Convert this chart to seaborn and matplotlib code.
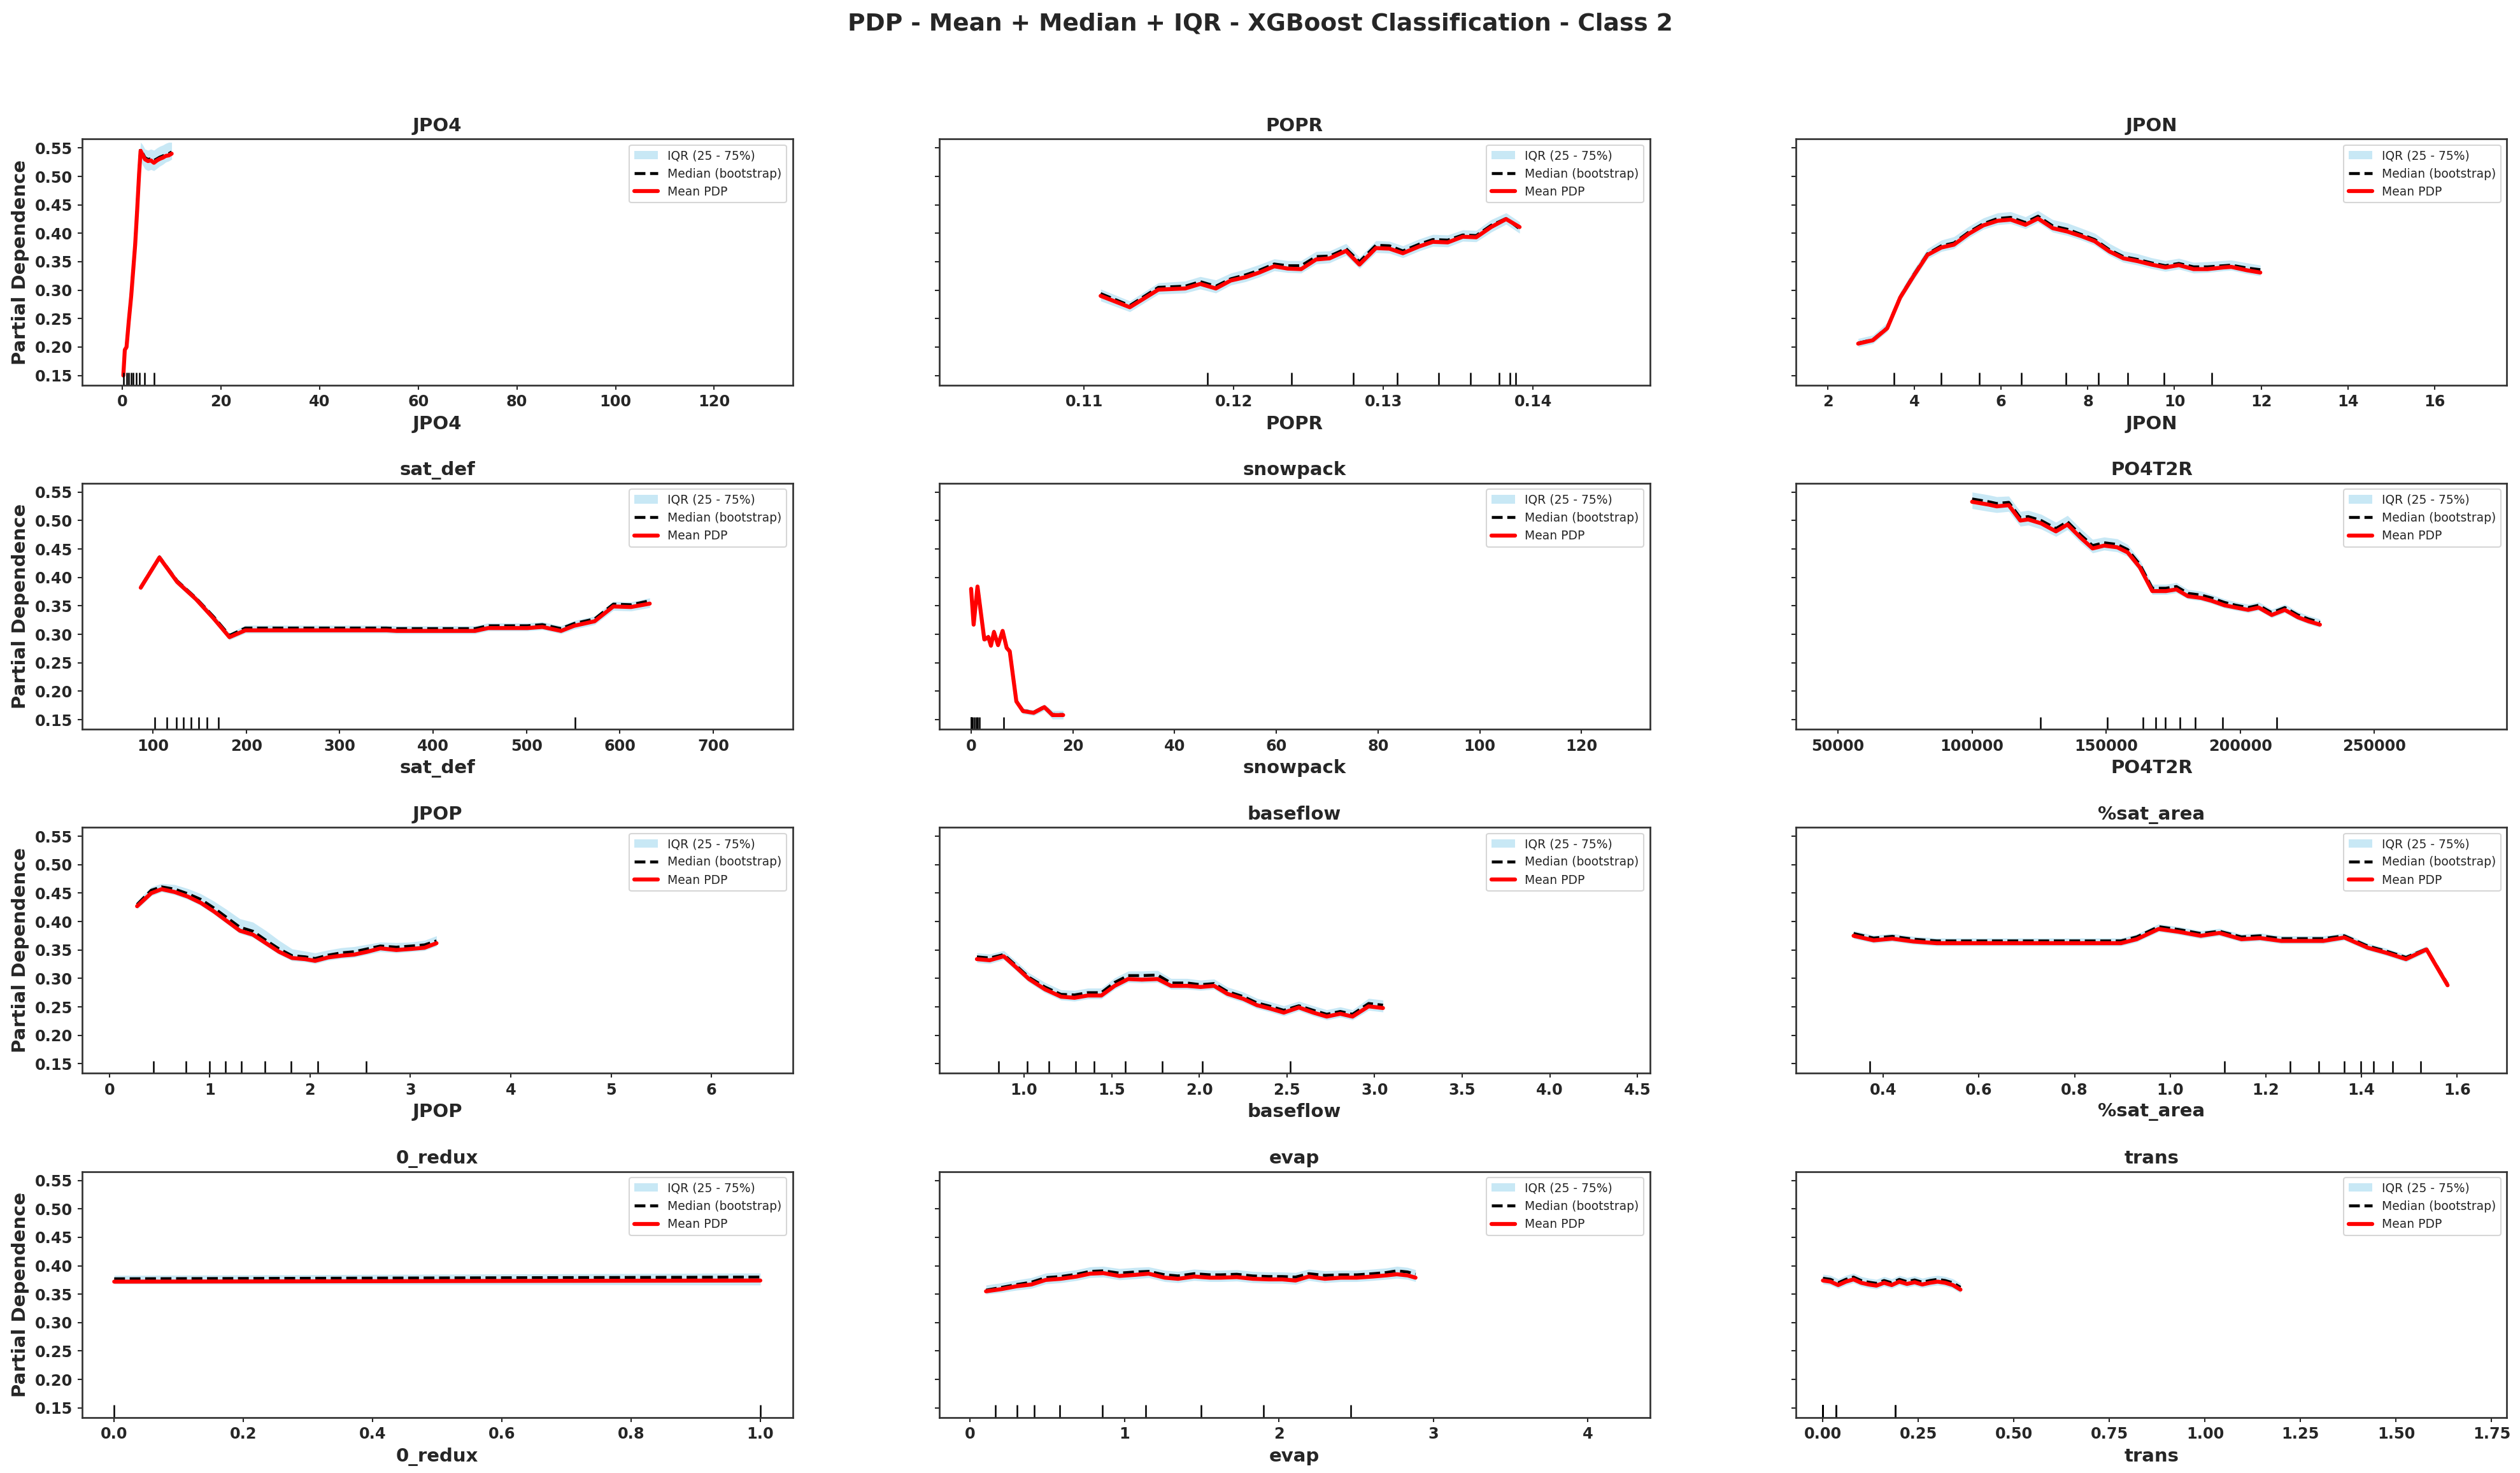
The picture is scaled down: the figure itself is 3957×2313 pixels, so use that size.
import matplotlib
matplotlib.use("Agg")
import matplotlib.pyplot as plt
from matplotlib.ticker import MultipleLocator, FormatStrFormatter
import seaborn as sns
import numpy as np

# ---------------- data ----------------
features = ["JPO4", "POPR", "JPON", "sat_def", "snowpack", "PO4T2R",
            "JPOP", "baseflow", "%sat_area", "0_redux", "evap", "trans"]

JPO4_x = [0.2, 0.5, 0.85, 1.3, 1.8, 2.2, 2.6, 3.0, 3.4, 3.7, 4.1, 4.6, 5.2, 5.8, 6.4, 7.0, 7.6, 8.2, 8.8, 9.4, 10.0]
JPO4_mean = [0.150, 0.195, 0.200, 0.245, 0.290, 0.335, 0.380, 0.440, 0.505, 0.545, 0.538, 0.530, 0.527, 0.528, 0.524, 0.528, 0.531, 0.533, 0.536, 0.537, 0.540]
JPO4_median = [0.150, 0.196, 0.201, 0.246, 0.292, 0.337, 0.382, 0.443, 0.508, 0.548, 0.541, 0.533, 0.530, 0.531, 0.528, 0.531, 0.534, 0.536, 0.539, 0.540, 0.543]
JPO4_q25 = [0.148, 0.190, 0.196, 0.238, 0.282, 0.326, 0.370, 0.428, 0.490, 0.528, 0.520, 0.513, 0.510, 0.512, 0.510, 0.514, 0.518, 0.521, 0.525, 0.527, 0.530]
JPO4_q75 = [0.152, 0.200, 0.205, 0.252, 0.300, 0.346, 0.392, 0.455, 0.522, 0.560, 0.556, 0.548, 0.546, 0.548, 0.546, 0.550, 0.553, 0.555, 0.558, 0.560, 0.560]
JPO4_dec = [0.3, 0.85, 1.27, 1.8, 2.2, 2.85, 3.5, 4.5, 6.45]

POPR_x = [0.1111, 0.11305, 0.11496, 0.11675, 0.11776, 0.1188, 0.1198, 0.1208, 0.1217, 0.1227, 0.1236, 0.1245, 0.1255, 0.1264, 0.1275, 0.1284, 0.1295, 0.1304, 0.1313, 0.1324, 0.1333, 0.1343, 0.1353, 0.1362, 0.1372, 0.1382, 0.1391]
POPR_mean = [0.290, 0.270, 0.301, 0.303, 0.311, 0.303, 0.317, 0.323, 0.331, 0.342, 0.338, 0.337, 0.354, 0.356, 0.369, 0.345, 0.374, 0.373, 0.365, 0.377, 0.385, 0.384, 0.394, 0.393, 0.411, 0.425, 0.411]
POPR_median = [0.294, 0.273, 0.305, 0.307, 0.315, 0.307, 0.320, 0.327, 0.335, 0.346, 0.343, 0.343, 0.359, 0.360, 0.373, 0.350, 0.379, 0.378, 0.369, 0.381, 0.389, 0.388, 0.397, 0.396, 0.414, 0.426, 0.408]
POPR_q25 = [0.281, 0.262, 0.293, 0.295, 0.302, 0.295, 0.309, 0.315, 0.323, 0.334, 0.331, 0.330, 0.346, 0.348, 0.361, 0.338, 0.366, 0.365, 0.357, 0.369, 0.377, 0.376, 0.386, 0.385, 0.402, 0.416, 0.400]
POPR_q75 = [0.302, 0.281, 0.313, 0.316, 0.324, 0.318, 0.330, 0.337, 0.345, 0.355, 0.352, 0.352, 0.368, 0.369, 0.382, 0.358, 0.387, 0.386, 0.378, 0.390, 0.398, 0.397, 0.406, 0.405, 0.424, 0.436, 0.420]
POPR_dec = [0.11826, 0.12386, 0.12799, 0.13093, 0.1337, 0.13582, 0.13772, 0.13847, 0.13884]

JPON_x = [2.70, 3.04, 3.37, 3.67, 3.98, 4.30, 4.62, 4.91, 5.25, 5.59, 5.92, 6.22, 6.56, 6.85, 7.19, 7.53, 7.85, 8.16, 8.50, 8.82, 9.15, 9.47, 9.79, 10.10, 10.44, 10.76, 11.13, 11.31, 11.67, 11.98]
JPON_mean = [0.206, 0.212, 0.233, 0.287, 0.325, 0.362, 0.375, 0.380, 0.399, 0.414, 0.422, 0.424, 0.415, 0.426, 0.409, 0.403, 0.395, 0.386, 0.368, 0.356, 0.351, 0.345, 0.340, 0.344, 0.337, 0.337, 0.340, 0.341, 0.335, 0.331]
JPON_median = [0.207, 0.213, 0.234, 0.288, 0.327, 0.364, 0.378, 0.383, 0.402, 0.417, 0.426, 0.428, 0.419, 0.430, 0.413, 0.407, 0.398, 0.389, 0.371, 0.359, 0.354, 0.348, 0.343, 0.347, 0.341, 0.341, 0.343, 0.344, 0.339, 0.336]
JPON_q25 = [0.200, 0.206, 0.227, 0.281, 0.318, 0.355, 0.368, 0.373, 0.392, 0.407, 0.415, 0.417, 0.408, 0.419, 0.402, 0.396, 0.388, 0.379, 0.361, 0.349, 0.344, 0.338, 0.333, 0.337, 0.330, 0.331, 0.334, 0.335, 0.329, 0.325]
JPON_q75 = [0.215, 0.221, 0.243, 0.297, 0.336, 0.373, 0.388, 0.394, 0.412, 0.427, 0.436, 0.438, 0.429, 0.440, 0.424, 0.418, 0.409, 0.400, 0.382, 0.369, 0.364, 0.357, 0.352, 0.356, 0.349, 0.350, 0.352, 0.353, 0.348, 0.344]
JPON_dec = [3.53, 4.61, 5.49, 6.47, 7.50, 8.25, 8.92, 9.76, 10.86]

sat_def_x = [87, 107, 126, 146, 165, 182, 199, 230, 270, 310, 350, 361, 400, 445, 459, 480, 501, 517, 537, 551, 573, 593, 612, 632]
sat_def_mean = [0.382, 0.435, 0.392, 0.362, 0.328, 0.295, 0.307, 0.307, 0.307, 0.307, 0.307, 0.306, 0.306, 0.306, 0.311, 0.311, 0.311, 0.313, 0.306, 0.315, 0.323, 0.349, 0.348, 0.354]
sat_def_median = [0.383, 0.436, 0.394, 0.364, 0.331, 0.298, 0.311, 0.311, 0.311, 0.311, 0.311, 0.310, 0.310, 0.310, 0.315, 0.315, 0.315, 0.317, 0.310, 0.319, 0.327, 0.353, 0.352, 0.359]
sat_def_q25 = [0.377, 0.430, 0.387, 0.357, 0.323, 0.290, 0.302, 0.302, 0.302, 0.302, 0.302, 0.301, 0.301, 0.301, 0.306, 0.306, 0.306, 0.308, 0.301, 0.309, 0.317, 0.342, 0.341, 0.347]
sat_def_q75 = [0.388, 0.441, 0.398, 0.368, 0.335, 0.302, 0.316, 0.316, 0.316, 0.316, 0.316, 0.315, 0.315, 0.315, 0.320, 0.320, 0.320, 0.322, 0.315, 0.324, 0.332, 0.358, 0.357, 0.364]
sat_def_dec = [102, 115, 125, 133, 141, 149, 158, 170, 552]

snowpack_x = [0.0, 0.5, 1.26, 2.6, 3.4, 3.9, 4.5, 5.3, 6.2, 7.0, 7.6, 8.9, 10.2, 12.3, 14.4, 16.0, 18.1]
snowpack_mean = [0.380, 0.317, 0.384, 0.291, 0.295, 0.280, 0.304, 0.281, 0.306, 0.276, 0.270, 0.182, 0.165, 0.162, 0.172, 0.158, 0.158]
snowpack_median = [0.381, 0.318, 0.385, 0.292, 0.296, 0.281, 0.305, 0.282, 0.307, 0.277, 0.271, 0.183, 0.166, 0.163, 0.173, 0.159, 0.159]
snowpack_q25 = [0.376, 0.313, 0.380, 0.287, 0.290, 0.275, 0.299, 0.276, 0.301, 0.271, 0.265, 0.177, 0.160, 0.157, 0.166, 0.151, 0.151]
snowpack_q75 = [0.386, 0.322, 0.390, 0.296, 0.300, 0.285, 0.309, 0.286, 0.311, 0.281, 0.275, 0.188, 0.170, 0.167, 0.177, 0.166, 0.166]
snowpack_dec = [0.0, 0.0, 0.0, 0.3, 0.7, 1.0, 1.3, 1.7, 6.4]

PO4T2R_x = [100000, 106250, 109180, 113670, 117970, 120900, 125780, 131250, 135550, 140430, 144920, 149220, 154100, 158000, 162500, 167190, 172270, 176170, 180470, 185350, 189260, 194140, 198440, 202930, 206840, 211720, 216600, 221480, 225390, 229690]
PO4T2R_mean = [0.533, 0.528, 0.525, 0.527, 0.500, 0.502, 0.495, 0.481, 0.493, 0.470, 0.451, 0.456, 0.453, 0.444, 0.418, 0.376, 0.376, 0.379, 0.367, 0.364, 0.359, 0.351, 0.347, 0.343, 0.347, 0.334, 0.343, 0.330, 0.323, 0.317]
PO4T2R_median = [0.538, 0.533, 0.530, 0.532, 0.505, 0.507, 0.500, 0.486, 0.498, 0.475, 0.456, 0.461, 0.458, 0.449, 0.423, 0.381, 0.381, 0.384, 0.372, 0.369, 0.364, 0.356, 0.351, 0.347, 0.351, 0.338, 0.347, 0.334, 0.327, 0.321]
PO4T2R_q25 = [0.521, 0.516, 0.514, 0.516, 0.490, 0.492, 0.485, 0.472, 0.484, 0.461, 0.443, 0.448, 0.445, 0.437, 0.411, 0.370, 0.370, 0.373, 0.362, 0.359, 0.354, 0.346, 0.342, 0.338, 0.342, 0.329, 0.338, 0.325, 0.318, 0.312]
PO4T2R_q75 = [0.550, 0.545, 0.542, 0.543, 0.516, 0.518, 0.511, 0.497, 0.509, 0.486, 0.467, 0.471, 0.468, 0.458, 0.431, 0.388, 0.388, 0.391, 0.379, 0.376, 0.370, 0.362, 0.357, 0.353, 0.357, 0.344, 0.353, 0.340, 0.333, 0.327]
PO4T2R_dec = [125590, 150390, 163670, 168360, 172070, 177540, 183200, 193360, 213480]

JPOP_x = [0.275, 0.416, 0.52, 0.65, 0.78, 0.91, 1.04, 1.17, 1.30, 1.43, 1.56, 1.69, 1.82, 1.95, 2.05, 2.18, 2.31, 2.44, 2.57, 2.70, 2.86, 3.01, 3.14, 3.26]
JPOP_mean = [0.427, 0.450, 0.457, 0.452, 0.444, 0.433, 0.418, 0.401, 0.384, 0.377, 0.362, 0.347, 0.336, 0.334, 0.331, 0.337, 0.340, 0.342, 0.347, 0.353, 0.350, 0.352, 0.354, 0.362]
JPOP_median = [0.430, 0.455, 0.461, 0.457, 0.449, 0.439, 0.424, 0.407, 0.390, 0.383, 0.367, 0.352, 0.340, 0.338, 0.335, 0.341, 0.345, 0.347, 0.352, 0.357, 0.355, 0.357, 0.359, 0.366]
JPOP_q25 = [0.422, 0.445, 0.452, 0.447, 0.439, 0.428, 0.413, 0.396, 0.379, 0.372, 0.357, 0.342, 0.331, 0.329, 0.326, 0.332, 0.335, 0.337, 0.342, 0.347, 0.345, 0.347, 0.349, 0.357]
JPOP_q75 = [0.436, 0.461, 0.467, 0.465, 0.458, 0.449, 0.436, 0.421, 0.405, 0.399, 0.384, 0.367, 0.352, 0.348, 0.345, 0.350, 0.354, 0.356, 0.360, 0.364, 0.363, 0.364, 0.367, 0.375]
JPOP_dec = [0.437, 0.764, 0.998, 1.154, 1.315, 1.549, 1.809, 2.079, 2.562]

baseflow_x = [0.731, 0.804, 0.884, 0.957, 1.028, 1.119, 1.211, 1.288, 1.364, 1.441, 1.517, 1.594, 1.671, 1.762, 1.839, 1.931, 2.007, 2.084, 2.160, 2.252, 2.329, 2.405, 2.482, 2.568, 2.650, 2.727, 2.804, 2.874, 2.966, 3.048]
baseflow_mean = [0.334, 0.332, 0.339, 0.319, 0.299, 0.281, 0.268, 0.266, 0.270, 0.270, 0.287, 0.299, 0.298, 0.299, 0.287, 0.287, 0.285, 0.287, 0.273, 0.264, 0.253, 0.247, 0.240, 0.249, 0.240, 0.233, 0.238, 0.233, 0.251, 0.248]
baseflow_median = [0.338, 0.336, 0.342, 0.322, 0.302, 0.285, 0.272, 0.271, 0.275, 0.275, 0.293, 0.305, 0.305, 0.306, 0.292, 0.292, 0.289, 0.291, 0.277, 0.268, 0.257, 0.251, 0.244, 0.252, 0.244, 0.237, 0.242, 0.237, 0.256, 0.253]
baseflow_q25 = [0.328, 0.326, 0.333, 0.313, 0.293, 0.275, 0.262, 0.260, 0.264, 0.264, 0.281, 0.293, 0.292, 0.293, 0.281, 0.281, 0.279, 0.281, 0.267, 0.258, 0.247, 0.241, 0.234, 0.243, 0.234, 0.227, 0.232, 0.227, 0.244, 0.241]
baseflow_q75 = [0.345, 0.343, 0.349, 0.330, 0.310, 0.293, 0.280, 0.279, 0.283, 0.283, 0.301, 0.313, 0.313, 0.314, 0.300, 0.300, 0.297, 0.299, 0.285, 0.276, 0.265, 0.259, 0.252, 0.260, 0.252, 0.245, 0.250, 0.245, 0.265, 0.262]
baseflow_dec = [0.853, 1.018, 1.141, 1.294, 1.401, 1.579, 1.790, 2.017, 2.519]

sat_area_x = [0.338, 0.380, 0.419, 0.463, 0.512, 0.688, 0.897, 0.930, 0.976, 1.018, 1.064, 1.103, 1.149, 1.188, 1.232, 1.320, 1.364, 1.413, 1.452, 1.493, 1.536, 1.580]
sat_area_mean = [0.375, 0.367, 0.370, 0.365, 0.362, 0.362, 0.362, 0.369, 0.387, 0.382, 0.375, 0.380, 0.369, 0.371, 0.366, 0.366, 0.372, 0.354, 0.345, 0.334, 0.351, 0.288]
sat_area_median = [0.379, 0.371, 0.374, 0.369, 0.366, 0.366, 0.366, 0.373, 0.391, 0.386, 0.379, 0.383, 0.373, 0.375, 0.370, 0.370, 0.375, 0.357, 0.348, 0.337, 0.352, 0.290]
sat_area_q25 = [0.370, 0.362, 0.365, 0.360, 0.357, 0.357, 0.357, 0.364, 0.382, 0.377, 0.370, 0.375, 0.364, 0.366, 0.361, 0.361, 0.367, 0.349, 0.340, 0.329, 0.346, 0.286]
sat_area_q75 = [0.384, 0.376, 0.379, 0.374, 0.371, 0.371, 0.371, 0.378, 0.396, 0.391, 0.384, 0.388, 0.378, 0.380, 0.375, 0.375, 0.380, 0.362, 0.353, 0.342, 0.357, 0.292]
sat_area_dec = [0.3725, 1.113, 1.251, 1.311, 1.364, 1.398, 1.425, 1.465, 1.524]

redux_x = [0.0, 1.0]
redux_mean = [0.372, 0.374]
redux_median = [0.377, 0.380]
redux_q25 = [0.368, 0.366]
redux_q75 = [0.383, 0.387]
redux_dec = [0.0, 1.0]

evap_x = [0.104, 0.207, 0.304, 0.397, 0.490, 0.587, 0.691, 0.777, 0.864, 0.967, 1.071, 1.157, 1.261, 1.347, 1.451, 1.554, 1.623, 1.727, 1.831, 1.934, 2.021, 2.107, 2.193, 2.297, 2.401, 2.504, 2.608, 2.694, 2.763, 2.832, 2.884]
evap_mean = [0.355, 0.359, 0.364, 0.367, 0.375, 0.377, 0.381, 0.386, 0.387, 0.382, 0.384, 0.386, 0.379, 0.377, 0.381, 0.379, 0.379, 0.380, 0.377, 0.376, 0.376, 0.374, 0.381, 0.377, 0.379, 0.379, 0.381, 0.383, 0.385, 0.383, 0.379]
evap_median = [0.357, 0.362, 0.367, 0.371, 0.379, 0.381, 0.385, 0.390, 0.391, 0.387, 0.389, 0.390, 0.384, 0.382, 0.386, 0.384, 0.384, 0.385, 0.382, 0.381, 0.381, 0.380, 0.386, 0.383, 0.384, 0.384, 0.386, 0.388, 0.391, 0.389, 0.385]
evap_q25 = [0.350, 0.353, 0.357, 0.360, 0.368, 0.370, 0.374, 0.379, 0.380, 0.375, 0.377, 0.379, 0.372, 0.370, 0.374, 0.372, 0.372, 0.373, 0.370, 0.369, 0.369, 0.367, 0.374, 0.370, 0.372, 0.372, 0.374, 0.376, 0.378, 0.376, 0.372]
evap_q75 = [0.366, 0.370, 0.375, 0.379, 0.387, 0.389, 0.393, 0.398, 0.399, 0.395, 0.397, 0.398, 0.392, 0.390, 0.394, 0.392, 0.392, 0.393, 0.390, 0.389, 0.389, 0.388, 0.394, 0.391, 0.392, 0.392, 0.394, 0.396, 0.399, 0.397, 0.393]
evap_dec = [0.166, 0.304, 0.415, 0.580, 0.857, 1.136, 1.496, 1.900, 2.466]

trans_x = [0.0, 0.02, 0.04, 0.06, 0.08, 0.10, 0.12, 0.14, 0.16, 0.18, 0.20, 0.22, 0.24, 0.26, 0.28, 0.30, 0.32, 0.34, 0.36]
trans_mean = [0.374, 0.372, 0.366, 0.372, 0.376, 0.370, 0.367, 0.365, 0.370, 0.366, 0.372, 0.368, 0.371, 0.367, 0.370, 0.372, 0.370, 0.366, 0.358]
trans_median = [0.378, 0.376, 0.370, 0.376, 0.380, 0.374, 0.371, 0.369, 0.374, 0.370, 0.376, 0.372, 0.375, 0.371, 0.374, 0.376, 0.374, 0.370, 0.362]
trans_q25 = [0.368, 0.366, 0.360, 0.366, 0.370, 0.364, 0.361, 0.359, 0.364, 0.360, 0.366, 0.362, 0.365, 0.361, 0.364, 0.366, 0.364, 0.360, 0.352]
trans_q75 = [0.385, 0.383, 0.377, 0.383, 0.387, 0.381, 0.378, 0.376, 0.381, 0.377, 0.383, 0.379, 0.382, 0.378, 0.381, 0.383, 0.381, 0.377, 0.369]
trans_dec = [0.0, 0.0, 0.0, 0.0, 0.0, 0.035, 0.035, 0.19, 0.19]

x_limits = [(-8.2, 135.9), (0.1003, 0.1478), (1.27, 17.67),
            (24, 785), (-6.3, 133.4), (34400, 299400),
            (-0.275, 6.81), (0.515, 4.57), (0.218, 1.704),
            (-0.05, 1.05), (-0.2, 4.4), (-0.07, 1.79)]

xs = [JPO4_x, POPR_x, JPON_x, sat_def_x, snowpack_x, PO4T2R_x, JPOP_x, baseflow_x, sat_area_x, redux_x, evap_x, trans_x]
means = [JPO4_mean, POPR_mean, JPON_mean, sat_def_mean, snowpack_mean, PO4T2R_mean, JPOP_mean, baseflow_mean, sat_area_mean, redux_mean, evap_mean, trans_mean]
medians = [JPO4_median, POPR_median, JPON_median, sat_def_median, snowpack_median, PO4T2R_median, JPOP_median, baseflow_median, sat_area_median, redux_median, evap_median, trans_median]
q25s = [JPO4_q25, POPR_q25, JPON_q25, sat_def_q25, snowpack_q25, PO4T2R_q25, JPOP_q25, baseflow_q25, sat_area_q25, redux_q25, evap_q25, trans_q25]
q75s = [JPO4_q75, POPR_q75, JPON_q75, sat_def_q75, snowpack_q75, PO4T2R_q75, JPOP_q75, baseflow_q75, sat_area_q75, redux_q75, evap_q75, trans_q75]
decs = [JPO4_dec, POPR_dec, JPON_dec, sat_def_dec, snowpack_dec, PO4T2R_dec, JPOP_dec, baseflow_dec, sat_area_dec, redux_dec, evap_dec, trans_dec]

# ---------------- style ----------------
sns.set_theme(style="ticks")
plt.rcParams["font.family"] = ["DejaVu Sans"]
plt.rcParams["font.weight"] = "bold"
plt.rcParams["axes.titleweight"] = "bold"
plt.rcParams["axes.labelweight"] = "bold"
plt.rcParams["xtick.major.size"] = 3.5
plt.rcParams["ytick.major.size"] = 3.5
plt.rcParams["xtick.major.width"] = 1.0
plt.rcParams["ytick.major.width"] = 1.0
plt.rcParams["axes.linewidth"] = 1.3
plt.rcParams["axes.edgecolor"] = "#333333"

DPI = 150
fig, axes = plt.subplots(4, 3, figsize=(3957 / DPI, 2313 / DPI), dpi=DPI, sharey=True)
fig.subplots_adjust(left=0.0325, right=0.9948, top=0.9056, bottom=0.0377,
                    wspace=0.206, hspace=0.399)

for i, ax in enumerate(axes.flat):
    name = features[i]
    x = np.asarray(xs[i], dtype=float)
    ax.fill_between(x, q25s[i], q75s[i], color="skyblue", alpha=0.45,
                    linewidth=0, label="IQR (25 - 75%)")
    sns.lineplot(x=x, y=medians[i], ax=ax, color="black", linestyle="--",
                 linewidth=2.2, label="Median (bootstrap)")
    sns.lineplot(x=x, y=means[i], ax=ax, color="red", linewidth=3.0,
                 label="Mean PDP")
    ax.vlines(decs[i], 0, 0.05, transform=ax.get_xaxis_transform(),
              colors="black", linewidth=1.2)
    ax.set_xlim(*x_limits[i])
    ax.set_ylim(0.1332, 0.5657)
    ax.yaxis.set_major_locator(MultipleLocator(0.05))
    ax.yaxis.set_major_formatter(FormatStrFormatter("%.2f"))
    ax.set_title(name, fontsize=14, fontweight="bold")
    ax.set_xlabel(name, fontsize=14, fontweight="bold")
    ax.set_ylabel("Partial Dependence", fontsize=14, fontweight="bold")
    ax.tick_params(axis="both", labelsize=11.5)
    ax.legend(loc="upper right", prop={"weight": "normal", "size": 9})

fig.suptitle("PDP - Mean + Median + IQR - XGBoost Classification - Class 2",
             fontsize=18, fontweight="bold", y=0.9836, va="center")

fig.savefig("out.png", dpi=DPI)
